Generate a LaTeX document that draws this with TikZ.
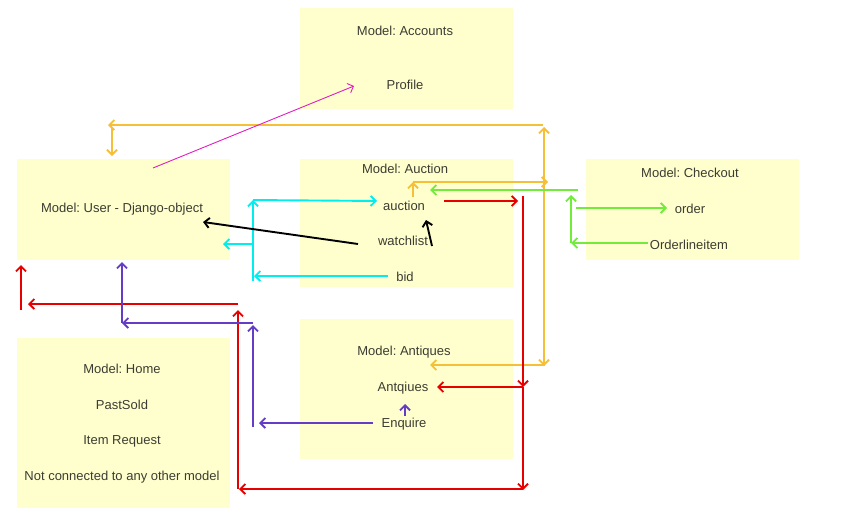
\documentclass[tikz,border=0pt]{standalone}
\usepackage{fontspec}
\setmainfont{Liberation Sans}
\usetikzlibrary{arrows.meta}
\frenchspacing
\definecolor{boxyellow}{RGB}{255,255,206}
\definecolor{textgray}{RGB}{60,60,50}
\definecolor{linkorange}{RGB}{245,192,55}
\definecolor{linkgreen}{RGB}{115,235,60}
\definecolor{linkred}{RGB}{230,0,0}
\definecolor{linkpurple}{RGB}{100,60,200}
\definecolor{linkcyan}{RGB}{0,238,238}
\definecolor{linkpink}{RGB}{225,30,190}
\begin{document}
\begin{tikzpicture}[x=1pt,y=-1pt,line width=1.9pt,
  every node/.style={text=textgray,font=\fontsize{13}{15}\selectfont},
  model/.style={fill=boxyellow,anchor=north west,inner sep=0pt,minimum width=213pt},
  link/.style={-{Straight Barb[length=5pt,width=10pt]}}]
  \useasboundingbox (0,0) rectangle (864,522);
  % model boxes
  \node [model,minimum height=101pt] (accounts) at (299,7) {};
  \node [model,minimum height=101pt] (user) at (16,158) {};
  \node [model,minimum height=128pt] (auction) at (299,158) {};
  \node [model,minimum height=101pt] (checkout) at (585,158) {};
  \node [model,minimum height=140pt] (antiques) at (299,318) {};
  \node [model,minimum height=170pt] (home) at (16,337) {};
  % texts
  \node (acctitle) at (405,31) {Model: Accounts};
  \node (profile) at (405,85) {Profile};
  \node (usertitle) at (122,209) {Model: User - Django-object};
  \node (auctitle) at (405,169) {Model: Auction};
  \node (auc) at (404,206) {auction};
  \node (watch) at (403,241) {watchlist};
  \node (bid) at (405,277) {bid};
  \node (chktitle) at (690,173) {Model: Checkout};
  \node (order) at (690,209) {order};
  \node (oli) at (689,245) {Orderlineitem};
  \node (anttitle) at (404,352) {Model: Antiques};
  \node (ant) at (403,388) {Antqiues};
  \node (enq) at (404,424) {Enquire};
  \node (hometitle) at (122,369) {Model: Home};
  \node (pastsold) at (122,405) {PastSold};
  \node (itemreq) at (122,441) {Item Request};
  \node (notcon) at (122,477) {Not connected to any other model};
  % free ends of the connectors
  \coordinate (o1) at (544,127); \coordinate (o2) at (544,366);
  \coordinate (o3) at (430,365); \coordinate (o4) at (108,125);
  \coordinate (o5) at (112,127); \coordinate (o6) at (112,156);
  \coordinate (o7) at (413,197); \coordinate (o8) at (413,182);
  \coordinate (o9) at (548,182);
  \coordinate (g1) at (578,190); \coordinate (g2) at (430,190);
  \coordinate (g3) at (648,243); \coordinate (g4) at (571,243);
  \coordinate (g5) at (571,195); \coordinate (g6) at (576,208);
  \coordinate (g7) at (667,208);
  \coordinate (r1) at (444,201); \coordinate (r2) at (518,201);
  \coordinate (r3) at (523,196); \coordinate (r4) at (523,387);
  \coordinate (r5) at (523,490); \coordinate (r6) at (437,387);
  \coordinate (r7) at (239,489); \coordinate (r8) at (238,489);
  \coordinate (r9) at (238,310); \coordinate (r10) at (238,304);
  \coordinate (r11) at (28,304); \coordinate (r12) at (21,310);
  \coordinate (r13) at (21,265);
  \coordinate (p1) at (122,323); \coordinate (p2) at (122,262);
  \coordinate (p3) at (253,323); \coordinate (p4) at (253,427);
  \coordinate (p5) at (253,325); \coordinate (p6) at (373,423);
  \coordinate (p7) at (259,423); \coordinate (p8) at (405,416);
  \coordinate (p9) at (405,404);
  \coordinate (c1) at (253,281); \coordinate (c2) at (253,200);
  \coordinate (c3) at (377,201); \coordinate (c4) at (253,244);
  \coordinate (c5) at (223,244); \coordinate (c6) at (388,276);
  \coordinate (c7) at (254,276);
  \coordinate (k1) at (358,244); \coordinate (k2) at (203,222);
  \coordinate (k3) at (432,246); \coordinate (k4) at (426,220);
  \coordinate (m1) at (153,168); \coordinate (m2) at (354,86);
  % orange
  \begin{scope}[linkorange]
    \draw [link] (o2) -- (o1);
    \draw [link] (544,360) -- (o2);
    \draw [link] (o2 |- o3) -- (o3);
    \draw [link] (543,125) -- (o4);
    \draw [link] (o5) -- (o6);
    \draw [link] (o7) -- (o8);
    \draw [link] (o8) -- (o9);
  \end{scope}
  % green
  \begin{scope}[linkgreen]
    \draw [link] (g1) -- (g2);
    \draw [link] (g3) -- (g4);
    \draw [link] (g4) -- (g5);
    \draw [link] (g6) -- (g7);
  \end{scope}
  % red
  \begin{scope}[linkred]
    \draw [link] (r1) -- (r2);
    \draw [link] (r3) -- (r4);
    \draw [link] (r4) -- (r5);
    \draw [link] (r4) -- (r6);
    \draw [link] (523,489) -- (r7);
    \draw [link] (r8) -- (r9);
    \draw [link] (r10) -- (r11);
    \draw [link] (r12) -- (r13);
  \end{scope}
  % purple
  \begin{scope}[linkpurple]
    \draw [link] (p1) -- (p2);
    \draw [link] (p3) -- (p1);
    \draw [link] (p4) -- (p5);
    \draw [link] (p6) -- (p7);
    \draw [link] (p8) -- (p9);
  \end{scope}
  % cyan
  \begin{scope}[linkcyan]
    \draw [link] (c1) -- (c2);
    \draw [link] (c2) -- (c3);
    \draw [link] (c4) -- (c5);
    \draw [link] (c6) -- (c7);
  \end{scope}
  % black and pink
  \draw [link,black] (k1) -- (k2);
  \draw [link,black] (k3) -- (k4);
  \draw [link,linkpink,line width=0.9pt] (m1) -- (m2);
\end{tikzpicture}
\end{document}
